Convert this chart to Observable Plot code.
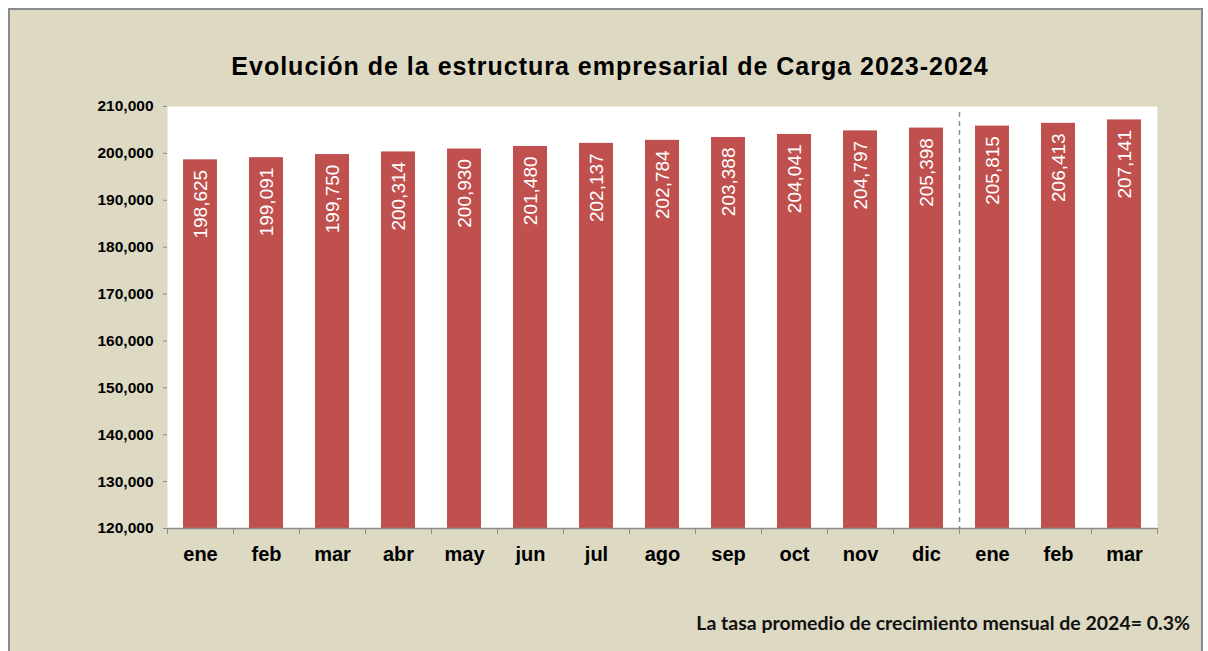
<!DOCTYPE html>
<html><head><meta charset="utf-8">
<script src="https://cdn.jsdelivr.net/npm/d3@7"></script>
<script src="https://cdn.jsdelivr.net/npm/@observablehq/plot@0.6"></script>
<style>
html,body{margin:0;padding:0;background:#fff;}
#wrap{position:relative;width:1208px;height:651px;overflow:hidden;background:#fff;}
#panel{position:absolute;left:8px;top:8px;width:1195px;height:660px;background:#DDD9C3;border:2px solid #8a8a8a;box-sizing:border-box;}
#title{position:absolute;left:0;width:1220px;top:52px;line-height:25px;text-align:center;font:bold 25px Arial,"Liberation Sans",sans-serif;letter-spacing:1px;color:#000;margin:0;white-space:nowrap;}
#chart{position:absolute;left:0;top:0;}
#caption{position:absolute;right:18px;top:611px;line-height:20px;font:bold 19.5px Lato,"Open Sans",sans-serif;color:#111;white-space:nowrap;}
</style>
</head><body>
<div id="wrap">
  <div id="panel"></div>
  <div id="title">Evolución de la estructura empresarial de Carga 2023-2024</div>
  <div id="chart"></div>
  <div id="caption">La tasa promedio de crecimiento mensual de 2024= 0.3%</div>
</div>
<script>
const months = ["ene","feb","mar","abr","may","jun","jul","ago","sep","oct","nov","dic","ene","feb","mar"];
const years = [2023,2023,2023,2023,2023,2023,2023,2023,2023,2023,2023,2023,2024,2024,2024];
const values = [198625,199091,199750,200314,200930,201480,202137,202784,203388,204041,204797,205398,205815,206413,207141];
const yDomain = [120000, 210000];
const yTicks = [120000,130000,140000,150000,160000,170000,180000,190000,200000,210000];
const yearBreak = [12];

const data = values.map((v, i) => ({i, month: months[i], year: years[i], value: v}));
const idx = data.map(d => d.i);
const fmt = d3.format(",");
const gray = "#8c8c8c";

const plot = Plot.plot({
  width: 1208,
  height: 600,
  marginLeft: 167,
  marginRight: 51,
  marginTop: 106,
  marginBottom: 72,
  style: {background: "transparent", fontFamily: "Arial, 'Liberation Sans', sans-serif", overflow: "visible"},
  x: {type: "band", domain: idx, paddingInner: 0.485, paddingOuter: 0.2425},
  y: {domain: yDomain},
  marks: [
    Plot.frame({fill: "white", stroke: "none"}),
    Plot.barY(data, {x: "i", y1: yDomain[0], y2: "value", fill: "#C0504D"}),
    Plot.text(data, {x: "i", y: "value", text: d => fmt(d.value), rotate: -90, textAnchor: "end", dy: 10, fill: "white", fontSize: 19}),
    Plot.ruleX(yearBreak, {x: d => d, dx: -33, stroke: gray, strokeWidth: 1.5, strokeDasharray: "5,4", insetTop: 6}),
    Plot.ruleY([yDomain[0]], {stroke: gray, strokeWidth: 1.5}),
    Plot.axisY({ticks: yTicks, tickFormat: fmt, tickSize: 4, tickPadding: 10, stroke: gray, fill: "black", fontSize: 15.5, fontWeight: "bold", label: null, line: true}),
    Plot.axisX({ticks: idx, tickSize: 6, tickFormat: () => "", dx: -33, stroke: gray, label: null}),
    Plot.axisX({ticks: [idx[idx.length - 1]], tickSize: 6, tickFormat: () => "", dx: 33, stroke: gray, label: null}),
    Plot.axisX({ticks: idx, tickSize: 0, tickPadding: 18, tickFormat: i => months[i], fill: "black", fontSize: 20, fontWeight: "bold", label: null})
  ]
});
document.getElementById("chart").appendChild(plot);
</script>
</body></html>
